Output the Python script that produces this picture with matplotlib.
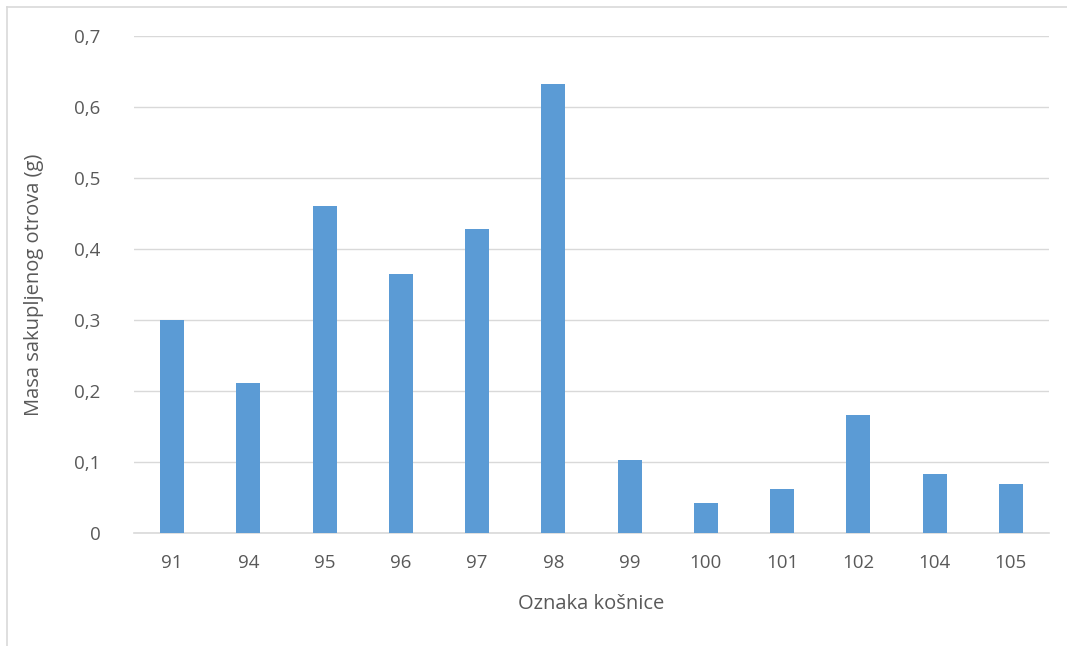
import matplotlib
matplotlib.use("Agg")
import matplotlib.pyplot as plt
from matplotlib.lines import Line2D

categories = ["91", "94", "95", "96", "97", "98", "99", "100", "101", "102", "104", "105"]
values = [0.300, 0.211, 0.461, 0.365, 0.428, 0.632, 0.103, 0.042, 0.062, 0.166, 0.083, 0.069]
yticks = [0, 0.1, 0.2, 0.3, 0.4, 0.5, 0.6, 0.7]
ytick_labels = ["0", "0,1", "0,2", "0,3", "0,4", "0,5", "0,6", "0,7"]

plt.rcParams['font.family'] = ['Open Sans', 'DejaVu Sans']
W, H = 1067, 646
fig = plt.figure(figsize=(W/100, H/100), dpi=100)
ax = fig.add_axes([134/W, 1 - 533/H, (1049-134)/W, (533-36)/H])

x = range(len(categories))
ax.bar(x, values, width=0.315, color="#5B9BD5", zorder=3)
ax.set_xlim(-0.5, len(categories) - 0.5)
ax.set_ylim(0, 0.7)
ax.set_yticks(yticks)
ax.set_yticklabels(ytick_labels)
ax.set_xticks(list(x))
ax.set_xticklabels(categories)
ax.grid(axis='y', color="#D9D9D9", linewidth=1, zorder=0)
for s in ['top', 'right', 'left']:
    ax.spines[s].set_visible(False)
ax.spines['bottom'].set_color("#D9D9D9")
ax.spines['bottom'].set_linewidth(1.2)
ax.tick_params(axis='both', length=0, colors="#595959", labelsize=13.5)
ax.tick_params(axis='x', pad=15)
ax.tick_params(axis='y', pad=24)
ax.set_xlabel("Oznaka košnice", fontsize=14.5, color="#595959", labelpad=16)
ax.set_ylabel("Masa sakupljenog otrova (g)", fontsize=14.5, color="#595959", labelpad=22)

# outer chart border (top and left visible)
fig.add_artist(Line2D([7/W, 7/W], [0, 1 - 7/H], transform=fig.transFigure, color="#D9D9D9", linewidth=1.2))
fig.add_artist(Line2D([7/W, 1], [1 - 7/H, 1 - 7/H], transform=fig.transFigure, color="#D9D9D9", linewidth=1.2))

fig.savefig("out.png", dpi=100)
